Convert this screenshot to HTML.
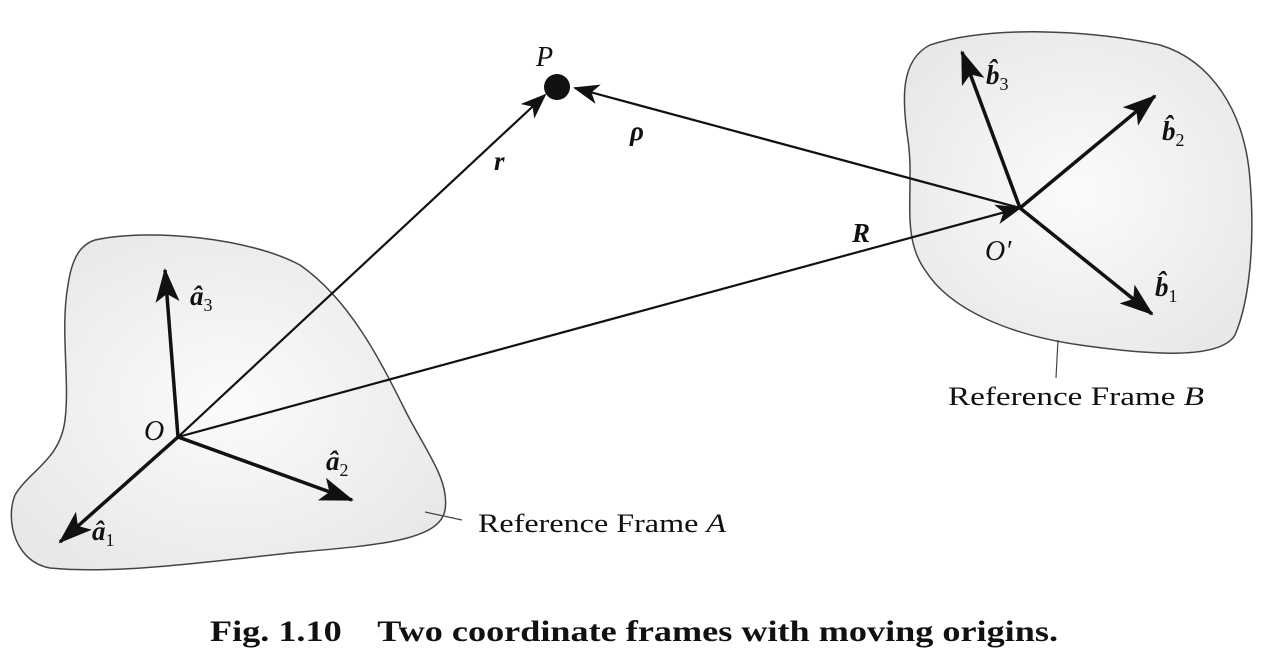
<!DOCTYPE html>
<html><head><meta charset="utf-8"><style>
html,body{margin:0;padding:0;background:#fff;width:1268px;height:663px;overflow:hidden}
text{font-family:"Liberation Serif",serif;fill:#111}
</style></head><body>
<svg width="1268" height="663" viewBox="0 0 1268 663">
<defs>
<marker id="ahb" markerWidth="34" markerHeight="24" refX="32" refY="12" orient="auto" markerUnits="userSpaceOnUse" viewBox="0 0 34 24">
<path d="M0,0 L34,12 L0,24 L8,12 Z" fill="#111"/></marker>
<marker id="ahm" markerWidth="26" markerHeight="20" refX="24" refY="10" orient="auto" markerUnits="userSpaceOnUse" viewBox="0 0 26 20">
<path d="M0,0 L26,10 L0,20 L7,10 Z" fill="#111"/></marker>
<radialGradient id="g" cx="50%" cy="50%" r="60%"><stop offset="0" stop-color="#fbfbfb"/><stop offset="1" stop-color="#e8e8e8"/></radialGradient>
</defs>
<path d="M95,240 C150,228 250,238 300,265 C350,300 380,360 405,410 C425,450 450,480 445,510 C440,540 380,545 300,552 C220,560 120,575 50,568 C15,562 5,520 15,495 C30,470 60,460 65,420 C70,380 60,330 68,285 C72,258 80,245 95,240 Z" fill="url(#g)" stroke="#444" stroke-width="1.5"/>
<path d="M930,45 C990,25 1090,30 1160,45 C1210,60 1245,110 1250,180 C1255,240 1250,300 1235,335 C1220,360 1150,355 1080,345 C1010,335 950,310 925,270 C900,235 915,190 908,140 C902,100 900,60 930,45 Z" fill="url(#g)" stroke="#444" stroke-width="1.5"/>
<line x1="425" y1="512" x2="462" y2="520" stroke="#444" stroke-width="1.2"/>
<line x1="1058" y1="340" x2="1056" y2="378" stroke="#444" stroke-width="1.2"/>
<g stroke="#111" stroke-width="2.2" fill="none">
<line x1="178" y1="437" x2="545" y2="95" marker-end="url(#ahm)"/>
<line x1="178" y1="437" x2="1020" y2="208" marker-end="url(#ahm)"/>
<line x1="1020" y1="208" x2="575" y2="88" marker-end="url(#ahm)"/>
</g>
<g stroke="#111" stroke-width="3.5" fill="none">
<line x1="178" y1="437" x2="165" y2="270" marker-end="url(#ahb)"/>
<line x1="178" y1="437" x2="352" y2="500" marker-end="url(#ahb)"/>
<line x1="178" y1="437" x2="60" y2="542" marker-end="url(#ahb)"/>
<line x1="1020" y1="208" x2="962" y2="52" marker-end="url(#ahb)"/>
<line x1="1020" y1="208" x2="1155" y2="96" marker-end="url(#ahb)"/>
<line x1="1020" y1="208" x2="1152" y2="314" marker-end="url(#ahb)"/>
</g>
<circle cx="557" cy="87" r="13" fill="#111"/>
<text x="536" y="66" font-size="28" font-style="italic">P</text>
<text x="494" y="170" font-size="27" font-weight="bold" font-style="italic">r</text>
<text x="630" y="140" font-size="27" font-weight="bold" font-style="italic">ρ</text>
<text x="852" y="242" font-size="27" font-weight="bold" font-style="italic">R</text>
<text x="144" y="440" font-size="28" font-style="italic">O</text>
<text x="985" y="260" font-size="28" font-style="italic">O′</text>
<text x="190" y="305" font-size="27" font-weight="bold" font-style="italic">â<tspan font-size="18" font-weight="normal" font-style="normal" dy="6">3</tspan></text>
<text x="326" y="470" font-size="27" font-weight="bold" font-style="italic">â<tspan font-size="18" font-weight="normal" font-style="normal" dy="6">2</tspan></text>
<text x="92" y="540" font-size="27" font-weight="bold" font-style="italic">â<tspan font-size="18" font-weight="normal" font-style="normal" dy="6">1</tspan></text>
<text x="986" y="84" font-size="27" font-weight="bold" font-style="italic">b̂<tspan font-size="18" font-weight="normal" font-style="normal" dy="6">3</tspan></text>
<text x="1162" y="140" font-size="27" font-weight="bold" font-style="italic">b̂<tspan font-size="18" font-weight="normal" font-style="normal" dy="6">2</tspan></text>
<text x="1155" y="296" font-size="27" font-weight="bold" font-style="italic">b̂<tspan font-size="18" font-weight="normal" font-style="normal" dy="6">1</tspan></text>
<text x="478" y="532" font-size="26" textLength="248" lengthAdjust="spacingAndGlyphs">Reference Frame <tspan font-style="italic">A</tspan></text>
<text x="948" y="405" font-size="26" textLength="256" lengthAdjust="spacingAndGlyphs">Reference Frame <tspan font-style="italic">B</tspan></text>
<text x="210" y="641" font-size="30" font-weight="bold" textLength="848" lengthAdjust="spacingAndGlyphs" xml:space="preserve">Fig. 1.10    Two coordinate frames with moving origins.</text>
</svg>
</body></html>
